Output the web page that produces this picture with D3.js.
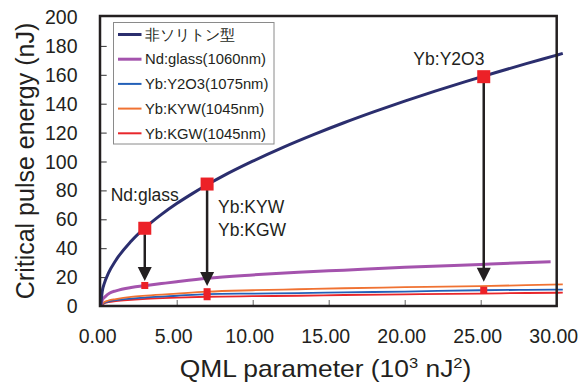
<!DOCTYPE html>
<html lang="ja">
  <head>
    <meta charset="UTF-8" />
    <title>Critical pulse energy vs QML parameter</title>
    <script src="https://d3js.org/d3.v7.min.js"></script>
    <style>
      body { margin: 0; background: #fff; }
      text { font-family: "Liberation Sans", Arial, sans-serif; fill: #231f20; }
    </style>
  </head>
  <body>
    <div class="chart"></div>
  </body>
  <script>
    // values
    var darkX = [0, 0.1, 0.25, 0.5, 1, 2, 3, 4, 5, 6, 7, 8, 10, 12, 14, 16, 18, 20, 22, 24, 26, 28, 30, 30.4];
    var darkY = [0, 10, 16, 22.5, 31.7, 44.8, 54.9, 63.4, 70.9, 77.6, 83.9, 89.7, 100.2, 109.8, 118.6, 126.8, 134.5, 141.8, 148.7, 155.3, 161.6, 167.7, 173.6, 174.8];

    var ndX = [0, 0.1, 0.3, 0.6, 1, 2, 3, 4, 5, 7, 10, 13, 16, 20, 25, 29.6];
    var ndY = [0, 4, 6.5, 9, 10.5, 12.8, 14.2, 15.5, 16.8, 19.2, 21.5, 23.3, 24.8, 26.8, 28.8, 30.7];

    var lowX = [0, 0.2, 0.5, 1, 2, 3, 5, 7, 10, 13, 16, 20, 25, 28, 30.4];
    var kywY = [0, 2.5, 3.8, 4.8, 6.3, 7.2, 8.6, 9.9, 10.9, 11.6, 12.3, 13.0, 13.8, 14.4, 14.9];
    var y2o3Y = [0, 2, 3.1, 4, 5.1, 5.9, 7.1, 8.2, 8.6, 8.9, 9.4, 10.0, 10.9, 11.2, 11.4];
    var kgwY = [0, 1.6, 2.6, 3.4, 4.3, 5, 5.8, 6.4, 6.8, 7.1, 7.6, 8.1, 8.6, 9, 9.2];

    var seriesNames = ["非ソリトン型", "Nd:glass(1060nm)", "Yb:Y2O3(1075nm)", "Yb:KYW(1045nm)", "Yb:KGW(1045nm)"];
    var seriesColors = ["#2b2e6e", "#a453ad", "#2360b8", "#f07232", "#e8262b"];

    var xTicks = [0, 5, 10, 15, 20, 25, 30];
    var yTicks = [0, 20, 40, 60, 80, 100, 120, 140, 160, 180, 200];

    // markers: big squares on the dark curve, arrows down to the small squares
    var markX = [2.9, 7.0, 25.2];
    var markTop = [53.8, 84.4, 158.7];
    var arrowTo = [17.3, 13.8, 16.8];
    var smallX = [2.9, 7.0, 7.0, 25.2];
    var smallY = [14.2, 9.9, 6.4, 10.9];

    var labelText = ["Nd:glass", "Yb:KYW", "Yb:KGW", "Yb:Y2O3"];
    var labelX = [0.66, 7.72, 7.72, 20.57];
    var labelY = [72.7, 64.2, 48.4, 166.8];

    var width = 584, height = 383;
    var svg = d3.select(".chart").append("svg")
      .attr("width", width).attr("height", height);

    var x = d3.scaleLinear().domain([0, 30]).range([100.7, 556.7]);
    var y = d3.scaleLinear().domain([0, 200]).range([306, 17]);

    // ticks (inside)
    svg.append("g")
      .attr("transform", "translate(0,306)")
      .call(d3.axisTop(x).tickValues(xTicks.slice(1, 6)).tickSize(6).tickFormat(""))
      .call(function (g) { g.select(".domain").remove(); g.selectAll("line").attr("stroke", "#666"); });
    svg.append("g")
      .attr("transform", "translate(100.7,0)")
      .call(d3.axisRight(y).tickValues(yTicks.slice(1, 10)).tickSize(6).tickFormat(""))
      .call(function (g) { g.select(".domain").remove(); g.selectAll("line").attr("stroke", "#333"); });

    // tick labels
    svg.append("g").selectAll("text").data(xTicks).enter().append("text")
      .attr("x", function (d) { return x(d) - 3; })
      .attr("y", 343)
      .attr("text-anchor", "middle")
      .attr("font-size", 19.5)
      .text(function (d) { return d.toFixed(2); });
    svg.append("g").selectAll("text").data(yTicks).enter().append("text")
      .attr("x", 77.5)
      .attr("y", function (d) { return y(d) + 7; })
      .attr("text-anchor", "end")
      .attr("font-size", 19.5)
      .text(function (d) { return d; });

    // axis titles
    svg.append("text")
      .attr("transform", "translate(33.5,161) rotate(-90)")
      .attr("text-anchor", "middle")
      .attr("font-size", 25)
      .text("Critical pulse energy (nJ)");
    var xt = svg.append("text")
      .attr("transform", "translate(325.5,377) scale(1.1,1)")
      .attr("text-anchor", "middle")
      .attr("font-size", 24);
    xt.append("tspan").text("QML parameter (10");
    xt.append("tspan").attr("dy", -9).attr("font-size", 15).text("3");
    xt.append("tspan").attr("dy", 9).text(" nJ");
    xt.append("tspan").attr("dy", -9).attr("font-size", 15).text("2");
    xt.append("tspan").attr("dy", 9).text(")");

    // curves
    var line = d3.line()
      .x(function (d) { return x(d[0]); })
      .y(function (d) { return y(d[1]); })
      .curve(d3.curveMonotoneX);
    var curves = [
      { xs: lowX, ys: kgwY, c: 4, w: 1.8 },
      { xs: lowX, ys: y2o3Y, c: 2, w: 1.8 },
      { xs: lowX, ys: kywY, c: 3, w: 1.8 },
      { xs: ndX, ys: ndY, c: 1, w: 3 },
      { xs: darkX, ys: darkY, c: 0, w: 3 }
    ];
    curves.forEach(function (s) {
      svg.append("path")
        .datum(d3.zip(s.xs, s.ys))
        .attr("fill", "none")
        .attr("stroke", seriesColors[s.c])
        .attr("stroke-width", s.w)
        .attr("d", line);
    });

    // arrows
    markX.forEach(function (mx, i) {
      var px = x(mx), y0 = y(markTop[i]) + 6, tip = y(arrowTo[i]);
      svg.append("line")
        .attr("x1", px).attr("x2", px)
        .attr("y1", y0).attr("y2", tip - 12)
        .attr("stroke", "#231f20").attr("stroke-width", 2.5);
      svg.append("path")
        .attr("d", "M" + (px - 7) + "," + (tip - 14) + "L" + (px + 7) + "," + (tip - 14) + "L" + px + "," + tip + "Z")
        .attr("fill", "#231f20");
    });

    // squares
    svg.append("g").selectAll("rect").data(markX).enter().append("rect")
      .attr("x", function (d) { return x(d) - 6.5; })
      .attr("y", function (d, i) { return y(markTop[i]) - 6.5; })
      .attr("width", 13).attr("height", 13)
      .attr("fill", "#ec2127");
    svg.append("g").selectAll("rect").data(smallX).enter().append("rect")
      .attr("x", function (d) { return x(d) - 3.5; })
      .attr("y", function (d, i) { return y(smallY[i]) - 3.5; })
      .attr("width", 7).attr("height", 7)
      .attr("fill", "#ec2127");

    // labels
    labelText.forEach(function (t, i) {
      svg.append("text")
        .attr("x", x(labelX[i])).attr("y", y(labelY[i]))
        .attr("font-size", 17.5)
        .text(t);
    });

    // frame
    svg.append("rect")
      .attr("x", 100).attr("y", 16)
      .attr("width", 456.7).attr("height", 290)
      .attr("fill", "none")
      .attr("stroke", "#231f20").attr("stroke-width", 2.5);

    // legend
    var lg = svg.append("g").attr("transform", "translate(113.5,22.5)");
    lg.append("rect")
      .attr("width", 160.5).attr("height", 121.5)
      .attr("fill", "#fff")
      .attr("stroke", "#8a8a8a").attr("stroke-width", 1);
    seriesNames.forEach(function (n, i) {
      var cy = 12 + i * 24.7;
      lg.append("line")
        .attr("x1", 4.5).attr("x2", 28)
        .attr("y1", cy).attr("y2", cy)
        .attr("stroke", seriesColors[i])
        .attr("stroke-width", i < 2 ? 3 : 2);
      lg.append("text")
        .attr("x", 31.5).attr("y", cy + 5.2)
        .attr("font-size", 14.8)
        .attr("font-family", i === 0 ? "'Noto Sans CJK JP', sans-serif" : null)
        .text(n);
    });
  </script>
</html>
